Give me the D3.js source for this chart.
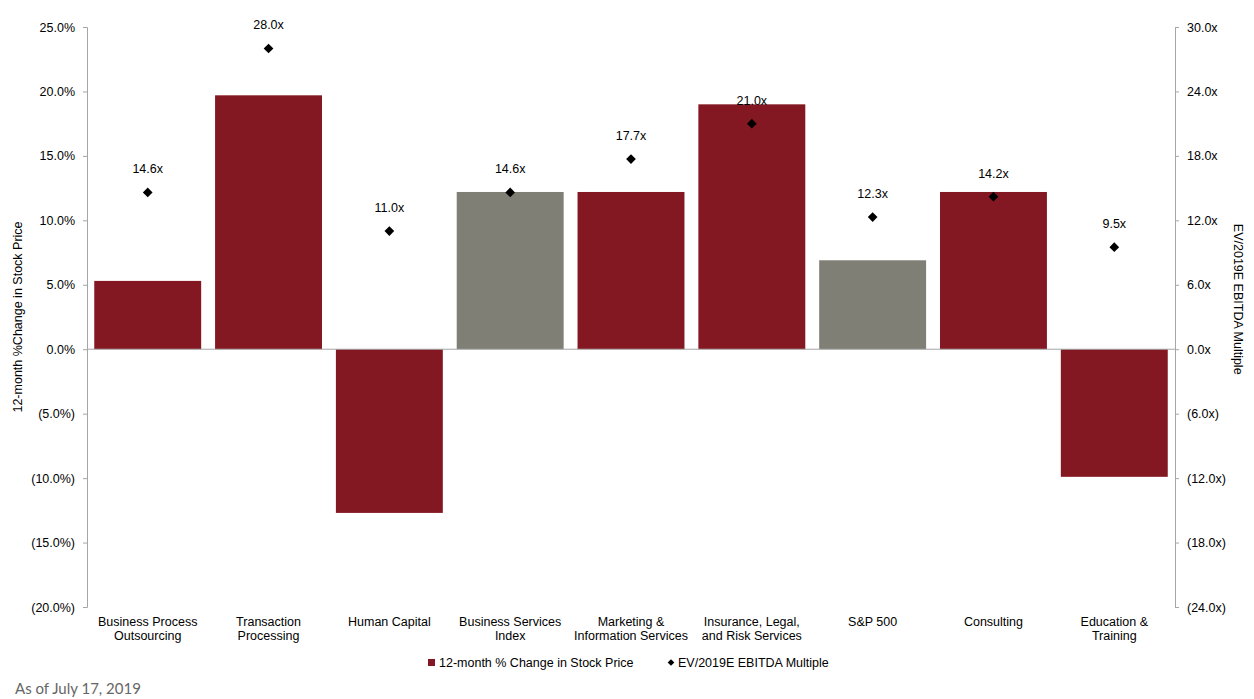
<!DOCTYPE html>
<html lang="en">
<head>
<meta charset="UTF-8">
<title>Stock price change vs EBITDA multiple</title>
<script src="https://cdn.jsdelivr.net/npm/d3@7/dist/d3.min.js"></script>
<style>
  body { margin: 0; background: #fff; }
  text { font-family: "Liberation Sans", Arial, sans-serif; fill: #000; }
</style>
</head>
<body>
<div id="chart"></div>
<script>

const categories = [
    ["Business Process", "Outsourcing"],
    ["Transaction", "Processing"],
    ["Human Capital"],
    ["Business Services", "Index"],
    ["Marketing &", "Information Services"],
    ["Insurance, Legal,", "and Risk Services"],
    ["S&P 500"],
    ["Consulting"],
    ["Education &", "Training"]
];
const priceChange = [5.3, 19.7, -12.7, 12.2, 12.2, 19.0, 6.9, 12.2, -9.9];
const multiples = [14.6, 28.0, 11.0, 14.6, 17.7, 21.0, 12.3, 14.2, 9.5];
const isBenchmark = [false, false, false, true, false, false, true, false, false];
const leftTicks = [25, 20, 15, 10, 5, 0, -5, -10, -15, -20];
const rightTicks = [30, 24, 18, 12, 6, 0, -6, -12, -18, -24];

const W = 1254, H = 699;
const mLeft = 87, mRight = 1175, mTop = 27, mBottom = 607;
const maroon = "#841822", grey = "#7f7f76", axisCol = "#a6a6a6";

const svg = d3.select("#chart").append("svg")
    .attr("width", W).attr("height", H);

const x = d3.scaleBand()
    .domain(d3.range(categories.length))
    .range([mLeft, mRight])
    .paddingInner(0.115)
    .paddingOuter(0.06);

const yL = d3.scaleLinear().domain([-20, 25]).range([mBottom, mTop]);
const yR = d3.scaleLinear().domain([-24, 30]).range([mBottom, mTop]);

const fmtPct = v => v < 0 ? `(${Math.abs(v).toFixed(1)}%)` : `${v.toFixed(1)}%`;
const fmtX = v => v < 0 ? `(${Math.abs(v).toFixed(1)}x)` : `${v.toFixed(1)}x`;

// left axis
const gL = svg.append("g")
    .attr("transform", `translate(${mLeft},0)`)
    .call(d3.axisLeft(yL).tickValues(leftTicks).tickFormat(fmtPct).tickSize(4).tickPadding(8));
gL.selectAll("path, line").attr("stroke", axisCol);
gL.selectAll("text").attr("font-size", 12.5);

// right axis
const gR = svg.append("g")
    .attr("transform", `translate(${mRight},0)`)
    .call(d3.axisRight(yR).tickValues(rightTicks).tickFormat(fmtX).tickSize(4).tickPadding(8));
gR.selectAll("path, line").attr("stroke", axisCol);
gR.selectAll("text").attr("font-size", 12.5);

// bars
svg.selectAll(".bar")
    .data(priceChange)
    .enter()
    .append("rect")
    .attr("class", "bar")
    .attr("x", (d, i) => x(i))
    .attr("width", x.bandwidth())
    .attr("y", d => yL(Math.max(0, d)))
    .attr("height", d => Math.abs(yL(d) - yL(0)))
    .attr("fill", (d, i) => isBenchmark[i] ? grey : maroon);

// zero line
svg.append("line")
    .attr("x1", mLeft).attr("x2", mRight)
    .attr("y1", yL(0)).attr("y2", yL(0))
    .attr("stroke", axisCol);

// multiples as diamonds
const diamond = d3.symbol().type(d3.symbolDiamond2).size(60);
svg.selectAll(".pt")
    .data(multiples)
    .enter()
    .append("path")
    .attr("class", "pt")
    .attr("d", diamond)
    .attr("transform", (d, i) => `translate(${x(i) + x.bandwidth() / 2},${yR(d)})`)
    .attr("fill", "#000");

svg.selectAll(".ptlabel")
    .data(multiples)
    .enter()
    .append("text")
    .attr("class", "ptlabel")
    .attr("x", (d, i) => x(i) + x.bandwidth() / 2)
    .attr("y", d => yR(d) - 19)
    .attr("text-anchor", "middle")
    .attr("font-size", 12.5)
    .text(d => d.toFixed(1) + "x");

// category labels
const cat = svg.selectAll(".cat")
    .data(categories)
    .enter()
    .append("text")
    .attr("class", "cat")
    .attr("text-anchor", "middle")
    .attr("font-size", 12.5)
    .attr("x", (d, i) => x(i) + x.bandwidth() / 2)
    .attr("y", 626);
cat.selectAll("tspan")
    .data(d => d)
    .enter()
    .append("tspan")
    .attr("x", function() { return d3.select(this.parentNode).attr("x"); })
    .attr("dy", (d, i) => i === 0 ? 0 : 14)
    .text(d => d);

// axis titles
svg.append("text")
    .attr("transform", `translate(22,${(mTop + mBottom) / 2}) rotate(-90)`)
    .attr("text-anchor", "middle")
    .attr("font-size", 12.5)
    .text("12-month %Change in Stock Price");

svg.append("text")
    .attr("transform", `translate(1234,${yR(0) - 50}) rotate(90)`)
    .attr("text-anchor", "middle")
    .attr("font-size", 12.5)
    .text("EV/2019E EBITDA Multiple");

// legend
const lg = svg.append("g").attr("transform", "translate(428,662)");
lg.append("rect").attr("x", 0).attr("y", -3).attr("width", 7).attr("height", 7).attr("fill", maroon);
lg.append("text").attr("x", 11).attr("y", 4.5).attr("font-size", 12.5).text("12-month % Change in Stock Price");
lg.append("path").attr("d", d3.symbol().type(d3.symbolDiamond2).size(28))
    .attr("transform", "translate(243,0.5)").attr("fill", "#000");
lg.append("text").attr("x", 250).attr("y", 4.5).attr("font-size", 12.5).text("EV/2019E EBITDA Multiple");

// footnote
svg.append("text")
    .attr("x", 15).attr("y", 694)
    .attr("font-size", 15)
    .style("font-family", "Lato, 'Open Sans', sans-serif")
    .style("fill", "#666")
    .text("As of July 17, 2019");

</script>
</body>
</html>
